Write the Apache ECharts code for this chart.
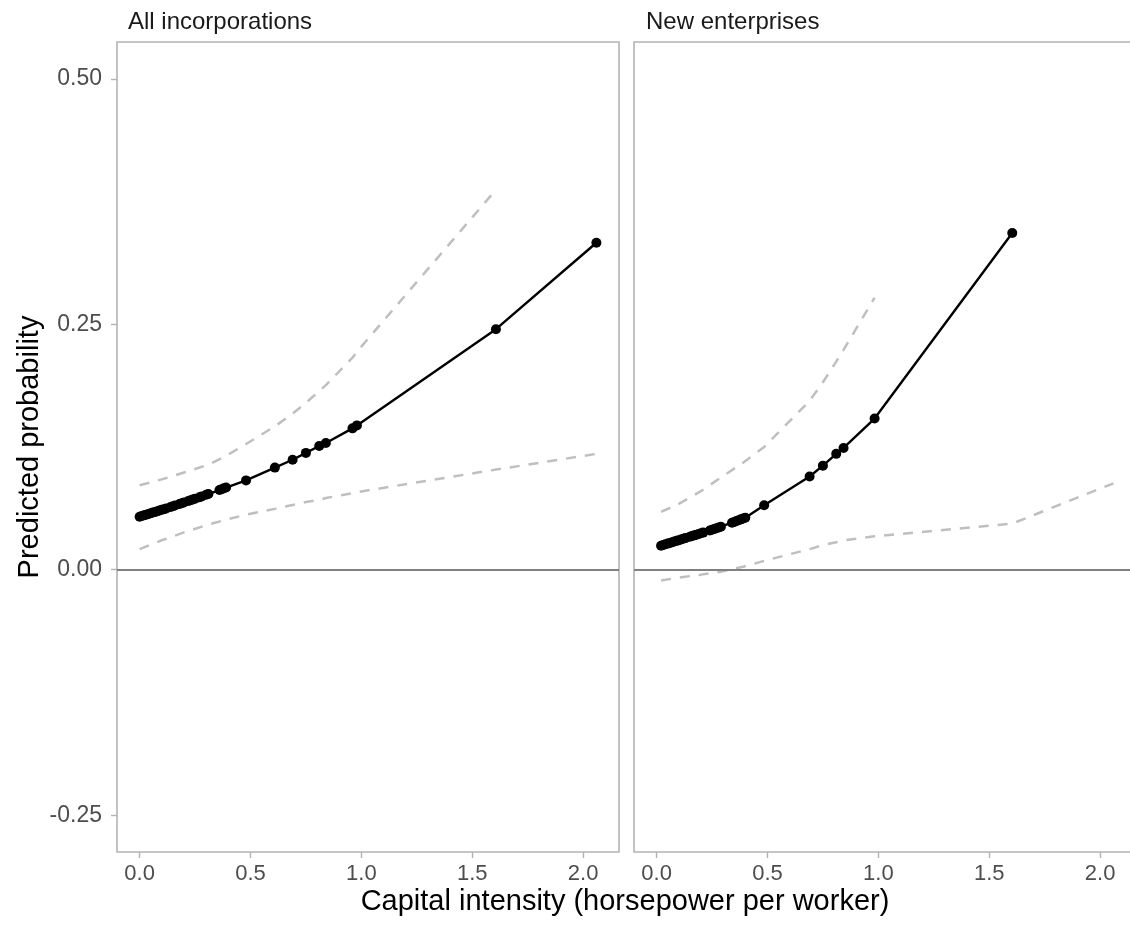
<!DOCTYPE html>
<html>
<head>
<meta charset="utf-8">
<script src="https://cdn.jsdelivr.net/npm/echarts@6/dist/echarts.min.js"></script>
<style>
  html, body { margin: 0; padding: 0; background: #ffffff; }
  #chart { width: 1130px; height: 925px; }
</style>
</head>
<body>
<div id="chart"></div>
<script>
// Facet titles
const panelTitles = ['All incorporations', 'New enterprises'];

// Axis ticks
const xTicks = [0, 0.5, 1.0, 1.5, 2.0];
const yTicks = [-0.25, 0, 0.25, 0.5];

// Panel 1: all incorporations — predicted probability by capital intensity
const allX = [0.00, 0.01, 0.02, 0.03, 0.04, 0.05, 0.06, 0.07, 0.08, 0.09, 0.10, 0.11, 0.12, 0.14, 0.15,
  0.16, 0.18, 0.19, 0.20, 0.22, 0.23, 0.24, 0.25, 0.27, 0.28, 0.30, 0.31, 0.36, 0.37, 0.38, 0.39,
  0.48, 0.61, 0.69, 0.75, 0.81, 0.84, 0.96, 0.98, 1.607, 2.06];
const allProb = [0.0540, 0.0547, 0.0554, 0.0561, 0.0568, 0.0575, 0.0582, 0.0589, 0.0596, 0.0603, 0.0610,
  0.0617, 0.0624, 0.0639, 0.0646, 0.0654, 0.0669, 0.0677, 0.0684, 0.0700, 0.0707, 0.0715, 0.0723,
  0.0739, 0.0747, 0.0763, 0.0771, 0.0812, 0.0820, 0.0829, 0.0837, 0.091, 0.104, 0.112, 0.119, 0.126,
  0.129, 0.144, 0.147, 0.245, 0.333];
// Confidence bounds (null = outside the plotted range)
const allCiX = [0.00, 0.10, 0.20, 0.31, 0.39, 0.48, 0.61, 0.69, 0.75, 0.81, 0.84, 0.96, 0.98, 1.607, 2.06];
const allUpper = [0.086, 0.092, 0.099, 0.107, 0.116, 0.128, 0.146, 0.159, 0.170, 0.182, 0.188, 0.216, 0.222, 0.387, null];
const allLower = [0.021, 0.030, 0.038, 0.046, 0.051, 0.056, 0.062, 0.066, 0.069, 0.071, 0.073, 0.078, 0.079, 0.102, 0.118];

// Panel 2: new enterprises
const newX = [0.02, 0.03, 0.04, 0.05, 0.06, 0.07, 0.08, 0.09, 0.10, 0.11, 0.12, 0.13, 0.15, 0.16, 0.17,
  0.18, 0.19, 0.20, 0.21, 0.24, 0.25, 0.26, 0.27, 0.28, 0.29, 0.34, 0.35, 0.36, 0.37, 0.38, 0.39, 0.40,
  0.485, 0.69, 0.75, 0.81, 0.843, 0.983, 1.604, 2.06];
const newProb = [0.0245, 0.0252, 0.0259, 0.0266, 0.0273, 0.0280, 0.0287, 0.0294, 0.0301, 0.0308, 0.0315,
  0.0322, 0.0336, 0.0343, 0.0350, 0.0357, 0.0364, 0.0371, 0.0378, 0.0400, 0.0407, 0.0415, 0.0422,
  0.0430, 0.0438, 0.0479, 0.0487, 0.0496, 0.0504, 0.0513, 0.0521, 0.0530, 0.0656, 0.095, 0.106, 0.118,
  0.124, 0.154, 0.343, null];
const newCiX = [0.02, 0.10, 0.20, 0.29, 0.39, 0.485, 0.69, 0.75, 0.81, 0.843, 0.983, 1.604, 2.06];
const newUpper = [0.059, 0.067, 0.080, 0.094, 0.109, 0.125, 0.172, 0.191, 0.212, 0.224, 0.277, null, null];
const newLower = [-0.011, -0.008, -0.005, -0.002, 0.003, 0.009, 0.021, 0.025, 0.028, 0.030, 0.034, 0.047, 0.088];

const FONT = "'Liberation Sans', Arial, Helvetica, sans-serif";
const X_MIN = -0.102, X_MAX = 2.162;
const Y_MIN = -0.2875, Y_MAX = 0.5375;

function pairs(xs, ys) {
  const out = [];
  xs.forEach((x, i) => { if (ys[i] !== null) out.push([x, ys[i]]); });
  return out;
}

const gridTop = 42, gridH = 810, gridW = 502;
const grids = [
  { left: 117, top: gridTop, width: gridW, height: gridH },
  { left: 634, top: gridTop, width: gridW, height: gridH }
].map(g => Object.assign(g, {
  show: true, borderColor: '#b3b3b3', borderWidth: 1.6, backgroundColor: 'transparent',
  containLabel: false, outerBoundsMode: 'none'
}));

const xAxes = [0, 1].map(i => ({
  type: 'value', gridIndex: i, min: X_MIN, max: X_MAX, position: 'bottom',
  axisLine: { show: false, onZero: false },
  splitLine: { show: false },
  axisTick: { show: true, length: 6, customValues: xTicks, lineStyle: { color: '#b3b3b3', width: 1.4 } },
  axisLabel: {
    customValues: xTicks, margin: 11, color: '#4d4d4d', fontSize: 22, fontFamily: FONT,
    formatter: v => v.toFixed(1)
  }
}));

const yAxes = [0, 1].map(i => ({
  type: 'value', gridIndex: i, min: Y_MIN, max: Y_MAX, position: 'left',
  axisLine: { show: false, onZero: false },
  splitLine: { show: false },
  axisTick: { show: i === 0, length: 6, customValues: yTicks, lineStyle: { color: '#b3b3b3', width: 1.4 } },
  axisLabel: {
    show: i === 0, customValues: yTicks, margin: 15, color: '#4d4d4d', fontSize: 23, fontFamily: FONT,
    formatter: v => v.toFixed(2)
  }
}));

const dashStyle = { color: '#bfbfbf', width: 2.5, type: [10, 9] };

function panelSeries(i, xs, prob, ciX, up, lo) {
  return [
    {
      type: 'line', xAxisIndex: i, yAxisIndex: i, data: pairs(ciX, lo),
      showSymbol: false, lineStyle: dashStyle, silent: true, z: 2,
      markLine: {
        silent: true, symbol: 'none', label: { show: false },
        lineStyle: { color: '#808080', width: 2.2, type: 'solid' },
        data: [{ yAxis: 0 }]
      }
    },
    {
      type: 'line', xAxisIndex: i, yAxisIndex: i, data: pairs(ciX, up),
      showSymbol: false, lineStyle: dashStyle, silent: true, z: 2
    },
    {
      type: 'line', xAxisIndex: i, yAxisIndex: i, data: pairs(xs, prob),
      symbol: 'circle', symbolSize: 10, showAllSymbol: true,
      itemStyle: { color: '#000000' },
      lineStyle: { color: '#000000', width: 2.4 }, silent: true, z: 3
    }
  ];
}

const chart = echarts.init(document.getElementById('chart'), null, { renderer: 'canvas' });
chart.setOption({
  backgroundColor: '#ffffff',
  animation: false,
  grid: grids,
  xAxis: xAxes,
  yAxis: yAxes,
  series: [
    ...panelSeries(0, allX, allProb, allCiX, allUpper, allLower),
    ...panelSeries(1, newX, newProb, newCiX, newUpper, newLower)
  ],
  graphic: [
    { type: 'text', left: 128, top: 10, style: { text: panelTitles[0], font: '24px ' + FONT, fill: '#1a1a1a' } },
    { type: 'text', left: 646, top: 10, style: { text: panelTitles[1], font: '24px ' + FONT, fill: '#1a1a1a' } },
    {
      type: 'text', x: 625, y: 902,
      style: { text: 'Capital intensity (horsepower per worker)', font: '29px ' + FONT, fill: '#000000',
        align: 'center', verticalAlign: 'middle' }
    },
    {
      type: 'text', x: 30, y: 447, rotation: Math.PI / 2,
      style: { text: 'Predicted probability', font: '29px ' + FONT, fill: '#000000',
        align: 'center', verticalAlign: 'middle' }
    }
  ]
});
</script>
</body>
</html>
